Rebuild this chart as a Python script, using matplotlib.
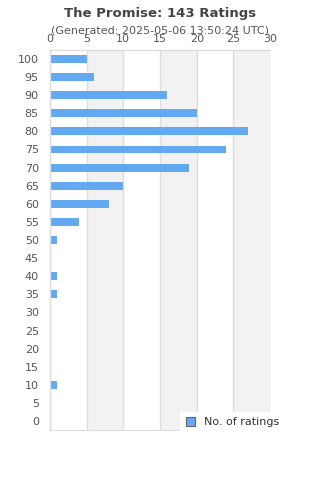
import numpy as np
import matplotlib
matplotlib.use('Agg')
import matplotlib.pyplot as plt
from matplotlib.patches import Patch

# ratings buckets, top to bottom as shown
categories = [100, 95, 90, 85, 80, 75, 70, 65, 60, 55, 50, 45, 40, 35, 30, 25, 20, 15, 10, 5, 0]
counts = [5, 6, 16, 20, 27, 24, 19, 10, 8, 4, 1, 0, 1, 1, 0, 0, 0, 0, 1, 0, 0]
xticks = [0, 5, 10, 15, 20, 25, 30]

bar_color = '#63a9f2'
text_color = '#555555'

fig = plt.figure(figsize=(3.2, 4.8), dpi=100)
ax = fig.add_axes([0.156, 0.104, 0.688, 0.792])

# alternating bands
for i in range(len(xticks) - 1):
    if i % 2 == 1:
        ax.axvspan(xticks[i], xticks[i + 1], color='#f2f2f2', zorder=0, lw=0)
for x in xticks:
    ax.axvline(x, color='#dddddd', lw=1, zorder=1)

y = np.arange(len(categories))
ax.barh(y, counts, height=0.44, color=bar_color, zorder=2)

ax.set_ylim(len(categories) - 0.5, -0.5)
ax.set_xlim(0, 30)
ax.set_yticks(y)
ax.set_yticklabels([str(c) for c in categories])
ax.set_xticks(xticks)
ax.xaxis.tick_top()
ax.tick_params(axis='both', length=0, labelsize=8, colors=text_color)
ax.tick_params(axis='x', pad=4.5)
ax.tick_params(axis='y', pad=8)

for s in ['left', 'top']:
    ax.spines[s].set_color('#dddddd')
    ax.spines[s].set_linewidth(1)
ax.spines['right'].set_visible(False)
ax.spines['bottom'].set_color('#dddddd')

fig.text(0.5, 0.972, 'The Promise: 143 Ratings', ha='center', va='center',
         fontsize=9.5, fontweight='bold', color='#444444')
fig.text(0.5, 0.937, '(Generated: 2025-05-06 13:50:24 UTC)', ha='center', va='center',
         fontsize=8, color=text_color)

handle = Patch(facecolor=bar_color, edgecolor='#666666', linewidth=0.8)
leg = ax.legend([handle], ['No. of ratings'], loc='lower right',
                bbox_to_anchor=(1.09, -0.022), fontsize=8, frameon=True,
                fancybox=False, handlelength=0.8, handleheight=0.8,
                borderpad=0.5, handletextpad=0.8)
leg.get_frame().set_edgecolor('white')
leg.get_frame().set_facecolor('white')
leg.get_frame().set_alpha(1)
for t in leg.get_texts():
    t.set_color('#333333')

fig.savefig('out.png', dpi=100)
